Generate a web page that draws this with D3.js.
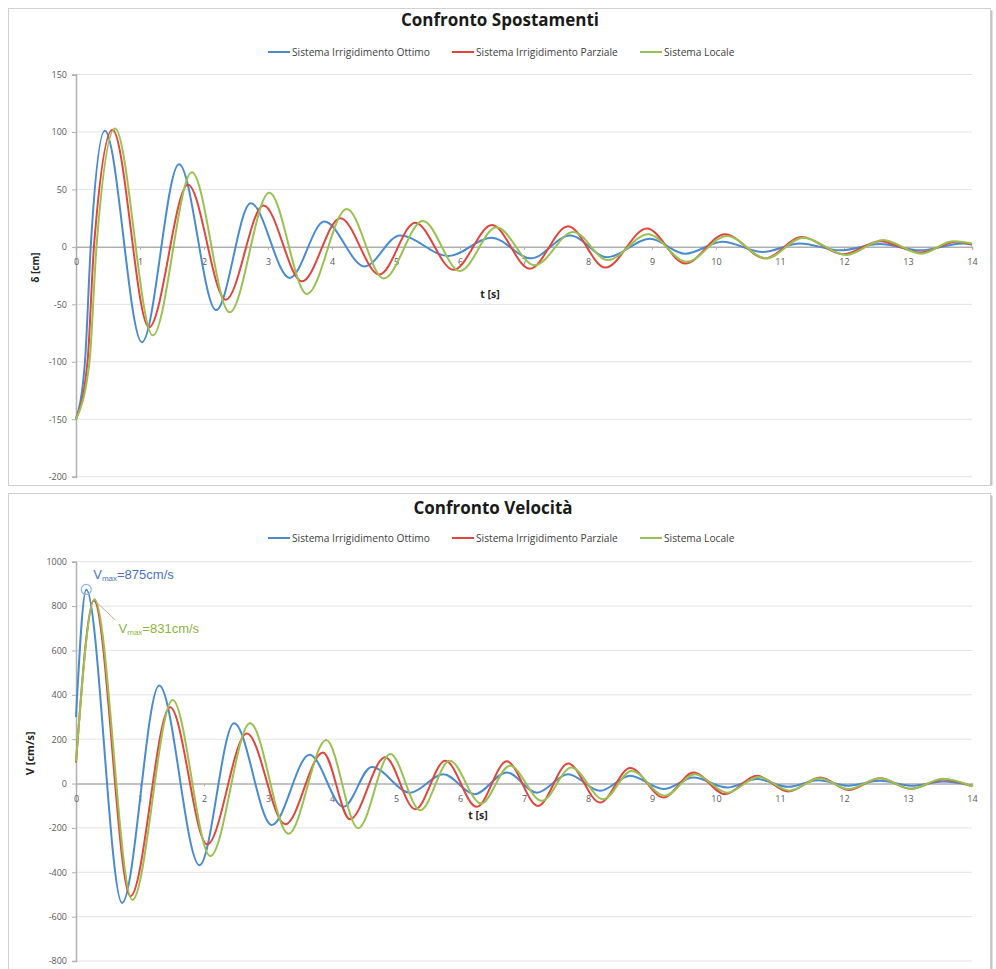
<!DOCTYPE html>
<html>
<head>
<meta charset="utf-8">
<script src="https://cdn.jsdelivr.net/npm/d3@7/dist/d3.min.js"></script>
<style>
  body { margin: 0; background: #fff; }
  svg { display: block; font-family: 'Open Sans', 'Liberation Sans', sans-serif; }
</style>
</head>
<body>
<svg id="chart" width="996" height="969"></svg>
<script>
// ---- data: [t (s), value]
const seriesNames = ['Sistema Irrigidimento Ottimo', 'Sistema Irrigidimento Parziale', 'Sistema Locale'];
const timeTicks = [0, 1, 2, 3, 4, 5, 6, 7, 8, 9, 10, 11, 12, 13, 14];
const dispTicks = [-200, -150, -100, -50, 0, 50, 100, 150];
const velTicks = [-800, -600, -400, -200, 0, 200, 400, 600, 800, 1000];

// displacements δ [cm]
const dispOttimo = [
  [0, -150], [0.14, -100], [0.23, 0], [0.45, 101], [1.03, -83], [1.61, 72], [2.19, -55], [2.73, 38],
  [3.34, -27], [3.88, 22], [4.51, -17], [5.06, 10], [5.82, -8], [6.49, 8], [7.11, -10], [7.72, 10],
  [8.3, -9], [8.97, 7], [9.52, -6], [10.1, 4.5], [10.73, -4.5], [11.31, 3], [11.94, -3], [12.56, 2.5],
  [13.19, -3], [13.86, 3], [14, 2]
];
const dispParziale = [
  [0, -150], [0.18, -100], [0.28, 0], [0.57, 102], [1.14, -70], [1.75, 54], [2.34, -46], [2.93, 36],
  [3.53, -30], [4.13, 25], [4.74, -24], [5.3, 21], [5.9, -20], [6.5, 19], [7.09, -19], [7.69, 18],
  [8.27, -18], [8.92, 16], [9.52, -14.5], [10.14, 11], [10.77, -10], [11.34, 8.5], [11.99, -6.5], [12.56, 5],
  [13.19, -5], [13.76, 4.5], [14, 2]
];
const dispLocale = [
  [0, -150], [0.21, -100], [0.32, 0], [0.61, 103], [1.2, -77], [1.81, 65], [2.4, -57], [3.02, 47],
  [3.61, -41], [4.23, 33], [4.81, -27.5], [5.42, 22.5], [6.0, -21], [6.57, 17], [7.17, -16], [7.77, 13],
  [8.31, -11.5], [8.94, 11], [9.54, -13], [10.17, 9.5], [10.79, -10], [11.36, 8], [12.04, -7], [12.61, 6],
  [13.21, -6], [13.7, 5], [14, 3]
];

// velocities V [cm/s]
const velOttimo = [
  [0, 300], [0.16, 875], [0.72, -538], [1.3, 442], [1.93, -368], [2.47, 272], [3.06, -187], [3.65, 130],
  [4.18, -105], [4.62, 75], [5.22, -41], [5.74, 42], [6.23, -48], [6.73, 50], [7.2, -41], [7.69, 42],
  [8.19, -33], [8.66, 35], [9.18, -25], [9.65, 27], [10.17, -18], [10.64, 20], [11.13, -15], [11.6, 15],
  [12.07, -10], [12.56, 12], [13.05, -10], [13.55, 9], [14, -10]
];
const velParziale = [
  [0, 95], [0.28, 825], [0.85, -508], [1.47, 344], [2.05, -274], [2.67, 226], [3.27, -184], [3.86, 140],
  [4.28, -161], [4.83, 118], [5.3, -116], [5.77, 103], [6.26, -105], [6.73, 100], [7.22, -101], [7.69, 90],
  [8.19, -86], [8.66, 70], [9.18, -63], [9.65, 50], [10.14, -48], [10.64, 35], [11.13, -36], [11.63, 27],
  [12.07, -29], [12.56, 24], [13.05, -24], [13.55, 18], [14, -12]
];
const velLocale = [
  [0, 100], [0.29, 831], [0.88, -525], [1.51, 377], [2.1, -327], [2.72, 272], [3.32, -226], [3.91, 196],
  [4.41, -202], [4.91, 133], [5.38, -120], [5.84, 103], [6.33, -90], [6.78, 80], [7.28, -78], [7.74, 72],
  [8.24, -71], [8.68, 57], [9.2, -55], [9.67, 42], [10.18, -41], [10.66, 30], [11.15, -32], [11.62, 24],
  [12.07, -25], [12.56, 24], [13.05, -24], [13.55, 22], [14, -12]
];

const config = {
  colors: ['#4a8bd0', '#e2453d', '#98c150'],
  grid: '#e3e3e3',
  axis: '#b0b0b0',
  tickText: '#595959',
  x0: 76,
  x1: 972,
  legendX: [268, 452, 640]
};

const panels = [
  {
    title: 'Confronto Spostamenti', titleX: 500, titleY: 26, legendY: 52,
    frame: { y: 8.5, h: 477 },
    yRange: [476.7, 74.5], domain: [-200, 150], ticks: dispTicks,
    series: [dispOttimo, dispParziale, dispLocale],
    yTitle: 'δ [cm]', yTitleSize: 10, yTitleX: 39, xTitle: 't [s]', xTitleX: 490, xTitleY: 298
  },
  {
    title: 'Confronto Velocità', titleX: 493, titleY: 514, legendY: 538,
    frame: { y: 493.5, h: 480 },
    yRange: [961, 561.7], domain: [-800, 1000], ticks: velTicks,
    series: [velOttimo, velParziale, velLocale],
    yTitle: 'V  [cm/s]', yTitleSize: 11, yTitleX: 34, xTitle: 't [s]', xTitleX: 478, xTitleY: 819,
    annotate: true
  }
];

const svg = d3.select('#chart');
const x = d3.scaleLinear().domain([0, 14]).range([config.x0, config.x1]);

const drawPanel = (p) => {
  const g = svg.append('g');
  const y = d3.scaleLinear().domain(p.domain).range(p.yRange);

  // frame with a soft shadow on the right
  g.append('rect')
    .attr('x', 8.5).attr('y', p.frame.y).attr('width', 982).attr('height', p.frame.h)
    .attr('fill', '#fff').attr('stroke', '#d0d0d0');
  g.append('line')
    .attr('x1', 991.5).attr('x2', 991.5).attr('y1', p.frame.y + 2).attr('y2', p.frame.y + p.frame.h)
    .attr('stroke', '#c4c4c4').attr('stroke-width', 2);

  // title
  g.append('text')
    .attr('x', p.titleX).attr('y', p.titleY)
    .attr('text-anchor', 'middle')
    .attr('font-size', 17).attr('font-weight', 'bold').attr('fill', '#1a1a1a')
    .text(p.title);

  // legend
  seriesNames.forEach((name, i) => {
    const lx = config.legendX[i];
    g.append('line')
      .attr('x1', lx).attr('x2', lx + 22).attr('y1', p.legendY).attr('y2', p.legendY)
      .attr('stroke', config.colors[i]).attr('stroke-width', 2);
    g.append('text')
      .attr('x', lx + 24).attr('y', p.legendY + 3.5)
      .attr('font-size', 10.2).attr('fill', '#404040')
      .text(name);
  });

  // horizontal grid
  g.append('g')
    .selectAll('line')
    .data(p.ticks.filter(d => d !== 0))
    .join('line')
    .attr('x1', config.x0).attr('x2', config.x1)
    .attr('y1', d => y(d)).attr('y2', d => y(d))
    .attr('stroke', config.grid);

  // y axis
  const yAxis = g.append('g')
    .attr('transform', `translate(${config.x0},0)`)
    .call(d3.axisLeft(y).tickValues(p.ticks).tickFormat(d => String(d)).tickSize(4).tickPadding(5));
  yAxis.select('.domain').attr('stroke', config.axis).attr('stroke-width', 1.5);
  yAxis.selectAll('.tick line').attr('stroke', config.axis);
  yAxis.selectAll('text').attr('font-size', 9).attr('fill', config.tickText)
    .attr('font-family', "'Open Sans', sans-serif");

  // x axis along zero
  const xAxis = g.append('g')
    .attr('transform', `translate(0,${y(0)})`)
    .call(d3.axisBottom(x).tickValues(timeTicks).tickFormat(d => String(d)).tickSize(3).tickPadding(9));
  xAxis.select('.domain').attr('stroke', config.axis).attr('stroke-width', 1.5);
  xAxis.selectAll('.tick line').attr('stroke', config.axis);
  xAxis.selectAll('text').attr('font-size', 9).attr('fill', config.tickText)
    .attr('font-family', "'Open Sans', sans-serif");

  // axis titles
  g.append('text')
    .attr('x', p.xTitleX).attr('y', p.xTitleY)
    .attr('text-anchor', 'middle')
    .attr('font-size', 10.5).attr('font-weight', 'bold').attr('fill', '#262626')
    .text(p.xTitle);
  g.append('text')
    .attr('transform', `translate(${p.yTitleX},${(p.yRange[0] + p.yRange[1]) / 2 - 8}) rotate(-90)`)
    .attr('text-anchor', 'middle')
    .attr('font-size', p.yTitleSize).attr('font-weight', 'bold').attr('fill', '#262626')
    .text(p.yTitle);

  // curves
  const line = d3.line()
    .x(d => x(d[0]))
    .y(d => y(d[1]))
    .curve(d3.curveMonotoneX);
  p.series.forEach((s, i) => {
    g.append('path')
      .datum(s)
      .attr('d', line)
      .attr('fill', 'none')
      .attr('stroke', config.colors[i])
      .attr('stroke-width', 2)
      .attr('stroke-linejoin', 'round');
  });

  if (p.annotate) annotate(g, p, y);
};

// peak velocity labels
const annotate = (g, p, y) => {
  const peakBlue = d3.greatest(p.series[0], d => d[1]);
  const peakGreen = d3.greatest(p.series[2], d => d[1]);

  g.append('circle')
    .attr('cx', x(peakBlue[0])).attr('cy', y(peakBlue[1])).attr('r', 5)
    .attr('fill', 'none').attr('stroke', '#8fb4e3').attr('stroke-width', 1.2);

  const label = (pt, lx, ly, color) => {
    const t = g.append('text')
      .attr('x', lx).attr('y', ly)
      .attr('font-size', 13).attr('fill', color)
      .attr('font-family', "'Liberation Sans', Arial, sans-serif");
    t.append('tspan').text('V');
    t.append('tspan').attr('font-size', 8).attr('dy', 2).text('max');
    t.append('tspan').attr('dy', -2).text(`=${pt[1]}cm/s`);
  };
  label(peakBlue, x(peakBlue[0]) + 7, y(peakBlue[1]) - 10, '#4a72c4');

  g.append('line')
    .attr('x1', x(peakGreen[0]) + 2).attr('y1', y(peakGreen[1]) + 3)
    .attr('x2', x(peakGreen[0]) + 21).attr('y2', y(peakGreen[1]) + 21)
    .attr('stroke', '#a8b890').attr('stroke-width', 1);
  label(peakGreen, x(peakGreen[0]) + 24, y(peakGreen[1]) + 34, '#8db43c');
};

panels.forEach(drawPanel);
</script>
</body>
</html>
